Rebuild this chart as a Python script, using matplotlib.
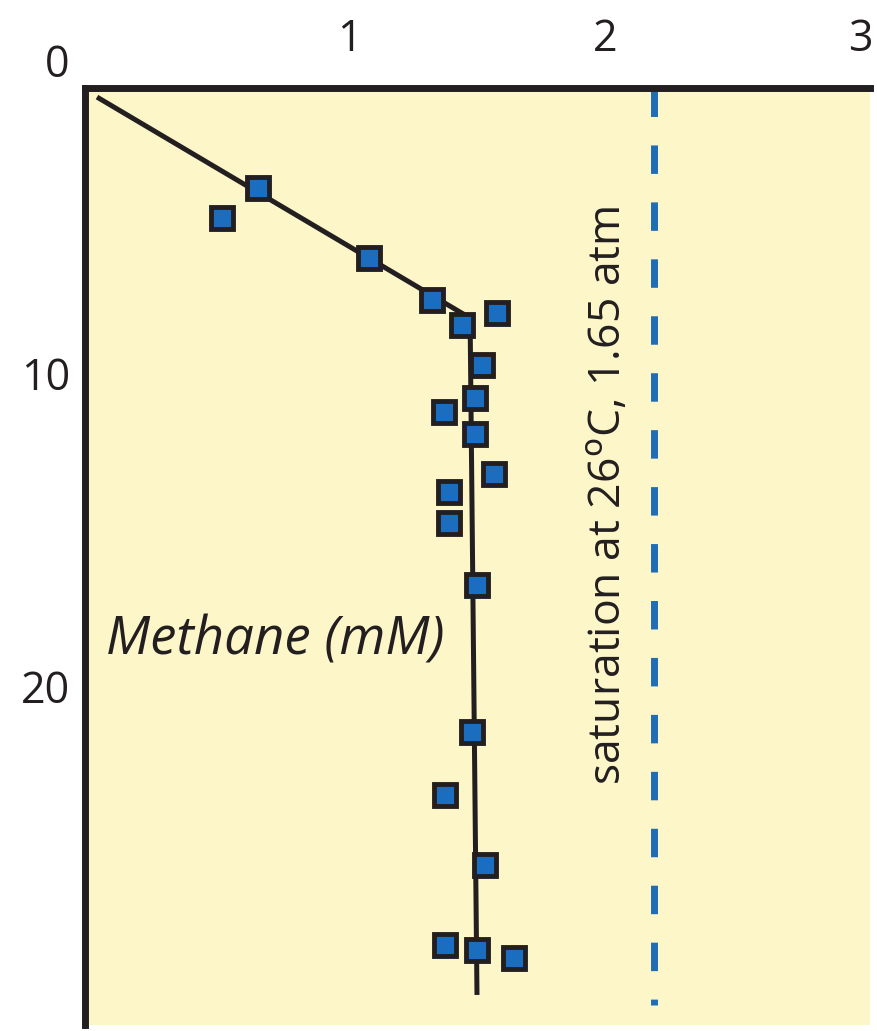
import matplotlib
matplotlib.use("Agg")
import matplotlib.pyplot as plt

# Data (methane concentration in mM vs depth)
methane_mM = [0.642, 0.501, 1.076, 1.323, 1.440, 1.577, 1.519, 1.491, 1.370, 1.491,
              1.566, 1.389, 1.389, 1.499, 1.479, 1.374, 1.530, 1.374, 1.499, 1.644]
depth = [3.19, 4.15, 5.43, 6.77, 7.57, 7.19, 8.85, 9.90, 10.35, 11.05,
         12.33, 12.91, 13.90, 15.88, 20.58, 22.59, 24.82, 27.38, 27.54, 27.80]

fit_x = [0.012, 1.472, 1.499]
fit_depth = [0.29, 7.35, 28.98]

saturation_x = 2.19
saturation_depth = [0.0, 29.3]

x_ticks = [1, 2, 3]
x_ticklabels = ["1", "2", "3"]
y_ticks = [0, 10, 20]
y_ticklabels = ["0", "10", "20"]

W, H = 878, 1031
fig = plt.figure(figsize=(W / 100, H / 100), dpi=100)
left, right, top, bottom = 85, 870, 88, 1025
ax = fig.add_axes([left / W, 1 - bottom / H, (right - left) / W, (bottom - top) / H])
ax.set_facecolor("#FDF6C9")

ax.set_xlim(-0.035, 3.037)
ax.set_ylim(29.94, 0)

dark = "#231f20"
blue = "#1a6dbf"

ax.plot([saturation_x, saturation_x], saturation_depth, color="#1f6db5", lw=5,
        dashes=(4.1, 4.1), solid_capstyle="butt", zorder=2)
ax.plot(fit_x, fit_depth, color=dark, lw=3.6, solid_capstyle="butt",
        solid_joinstyle="miter", zorder=3)
ax.plot(methane_mM, depth, ls="none", marker="s", markersize=16.5,
        markerfacecolor=blue, markeredgecolor=dark, markeredgewidth=3.5, zorder=4)

for s in ["right", "bottom"]:
    ax.spines[s].set_visible(False)
for s in ["top", "left"]:
    ax.spines[s].set_linewidth(5)
    ax.spines[s].set_color(dark)
    ax.spines[s].set_capstyle("projecting")

font = "Open Sans"
ax.xaxis.tick_top()
ax.set_xticks(x_ticks)
ax.set_xticklabels(x_ticklabels, fontsize=31, family=font, color=dark)
ax.set_yticks(y_ticks)
ax.set_yticklabels(y_ticklabels, fontsize=31, family=font, color=dark, va="bottom")
ax.tick_params(axis="x", length=0, pad=19)
ax.tick_params(axis="y", length=0, pad=11)

ax.text(2.02, 13.0, "saturation at 26$^{\\mathrm{o}}$C, 1.65 atm", rotation=90,
        ha="center", va="center", fontsize=32, family=font, color=dark)
ax.text(0.708, 17.67, "Methane (mM)", ha="center", va="center", fontsize=38,
        family=font, style="italic", color=dark)

fig.savefig("out.png", dpi=100)
